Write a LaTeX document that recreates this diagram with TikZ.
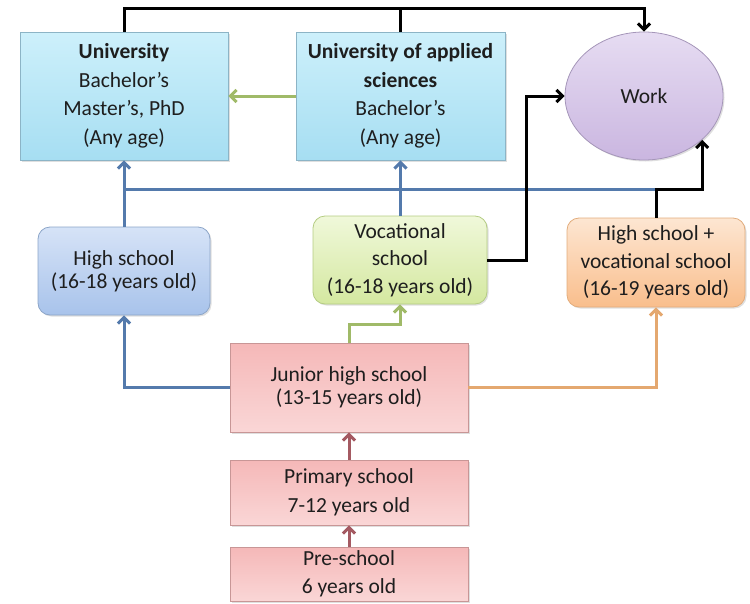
\documentclass[tikz,border=0pt]{standalone}
\usepackage{fontspec}
\setmainfont{Carlito}
\usepackage{tikz}
\usetikzlibrary{arrows.meta,shadows,calc,shapes.geometric}
\definecolor{txtgray}{RGB}{30,30,30}
\definecolor{unitop}{RGB}{205,240,251}
\definecolor{unibot}{RGB}{166,222,242}
\definecolor{uniedge}{RGB}{140,180,198}
\definecolor{hstop}{RGB}{214,227,247}
\definecolor{hsbot}{RGB}{168,195,235}
\definecolor{hsedge}{RGB}{140,165,200}
\definecolor{voctop}{RGB}{240,248,218}
\definecolor{vocbot}{RGB}{212,232,160}
\definecolor{vocedge}{RGB}{180,204,130}
\definecolor{hsvtop}{RGB}{253,230,210}
\definecolor{hsvbot}{RGB}{249,190,140}
\definecolor{hsvedge}{RGB}{226,172,124}
\definecolor{pinktop}{RGB}{245,184,184}
\definecolor{pinkbot}{RGB}{250,214,214}
\definecolor{pinkedge}{RGB}{200,150,150}
\definecolor{worktop}{RGB}{230,220,242}
\definecolor{workbot}{RGB}{202,182,224}
\definecolor{workedge}{RGB}{165,150,185}
\definecolor{lnblue}{RGB}{84,122,172}
\definecolor{lngreen}{RGB}{160,186,104}
\definecolor{lnorange}{RGB}{228,168,112}
\definecolor{lnred}{RGB}{164,90,98}

\begin{document}
\begin{tikzpicture}[x=1pt,y=-1pt,
	box/.style={draw,line width=0.8pt,inner sep=0pt,align=center,text=txtgray,
		font=\fontsize{21.5}{28.5}\selectfont,
		drop shadow={opacity=0.25,shadow xshift=1.5pt,shadow yshift=-1.5pt}},
	unibox/.style={box,draw=uniedge,top color=unitop,bottom color=unibot,
		minimum width=208pt,minimum height=128pt},
	hsbox/.style={box,rounded corners=12pt,draw=hsedge,top color=hstop,bottom color=hsbot,
		minimum width=172pt,minimum height=88pt,font=\fontsize{21.5}{23}\selectfont},
	vocbox/.style={box,rounded corners=12pt,draw=vocedge,top color=voctop,bottom color=vocbot,
		minimum width=174pt,minimum height=88pt,font=\fontsize{21.5}{27.5}\selectfont},
	hsvbox/.style={box,rounded corners=12pt,draw=hsvedge,top color=hsvtop,bottom color=hsvbot,
		minimum width=178pt,minimum height=89pt,font=\fontsize{21.5}{27.5}\selectfont},
	pinkbox/.style={box,draw=pinkedge,top color=pinktop,bottom color=pinkbot,
		minimum width=238pt},
	workell/.style={box,ellipse,draw=workedge,top color=worktop,bottom color=workbot,
		minimum width=158pt,minimum height=128pt},
	tip/.style={-{Straight Barb[length=6pt,width=12pt]}},
	kline/.style={line width=3pt,black},
	bline/.style={line width=3pt,lnblue},
	gline/.style={line width=3pt,lngreen},
	oline/.style={line width=3pt,lnorange},
	rline/.style={line width=3pt,lnred}]
\useasboundingbox (0,0) rectangle (750,603);

\coordinate (T) at (0,8);
\coordinate (bus) at (0,189);

\node[unibox] (uni) at (124,96) {\textbf{University}\\Bachelor’s\\Master’s, PhD\\(Any age)};
\node[unibox,minimum width=209pt] (uas) at (400.5,96) {\textbf{University of applied}\\\textbf{sciences}\\Bachelor’s\\(Any age)};
\node[workell] (work) at (644,96) {Work};

\node[hsbox] (hs) at (124,271) {High school\\(16-18 years old)};
\node[vocbox] (voc) at (400,260) {Vocational\\school\\(16-18 years old)};
\node[hsvbox] (hsv) at (656,262.5) {High school +\\vocational school\\(16-19 years old)};

\node[pinkbox,minimum height=89pt,font=\fontsize{21.5}{23}\selectfont] (jhs) at (349,387.5) {Junior high school\\(13-15 years old)};
\node[pinkbox,minimum height=65pt] (prim) at (349,492.5) {Primary school\\7-12 years old};
\node[pinkbox,minimum height=54pt] (pre) at (349,574) {Pre-school\\6 years old};

\draw[kline,tip] (uni.north) |- (work.north |- T) -- (work.north);
\draw[kline] (uas.north) -- (uas.north |- T);

\draw[gline,tip] (uas.west) -- (uni.east);

\draw[bline] (hs.north) |- (hsv.north |- bus);
\draw[bline] (voc.north) -- (voc.north |- bus);
\draw[bline,tip] (uni.south |- bus) -- (uni.south);
\draw[bline,tip] (uas.south |- bus) -- (uas.south);

\draw[kline,tip] (voc.east) -- ++(39,0) |- (work.west);
\draw[kline,tip] (hsv.north) |- (work.-37 |- bus) -- (work.-37);

\draw[bline,tip] (jhs.west) -| (hs.south);
\draw[gline,tip] (jhs.north) -- ++(0,-18) -| (voc.south);
\draw[oline,tip] (jhs.east) -| (hsv.south);

\draw[rline,tip] (prim.north) -- (jhs.south);
\draw[rline,tip] (pre.north) -- (prim.south);
\end{tikzpicture}
\end{document}
